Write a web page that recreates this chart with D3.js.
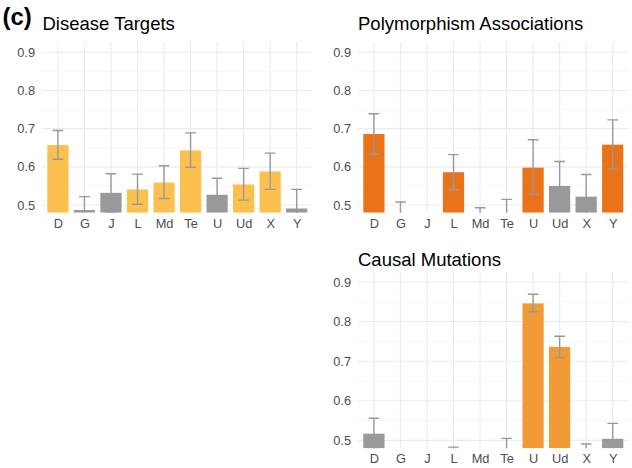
<!DOCTYPE html>
<html><head><meta charset="utf-8">
<script src="https://cdn.jsdelivr.net/npm/d3@7"></script>
<style>body{margin:0;background:#fff}svg{display:block}text{font-family:"Liberation Sans",Arial,sans-serif}</style>
</head><body><svg id="c" width="632" height="468"></svg>
<script>
const categories = ["D","G","J","L","Md","Te","U","Ud","X","Y"];
const yTicks = [0.5,0.6,0.7,0.8,0.9];

// Disease Targets
const diseaseMean  = [0.657,0.487,0.532,0.541,0.559,0.643,0.527,0.554,0.588,0.491];
const diseaseLow   = [0.620,0.452,0.482,0.502,0.517,0.599,0.484,0.513,0.541,0.441];
const diseaseHigh  = [0.695,0.522,0.582,0.581,0.603,0.689,0.570,0.596,0.636,0.541];
const diseaseSig   = [true,false,false,true,true,true,false,true,true,false];

// Polymorphism Associations
const polyMean  = [0.686,0.460,null,0.586,0.450,0.460,0.598,0.550,0.522,0.658];
const polyLow   = [0.633,0.412,null,0.540,0.407,0.405,0.528,0.486,0.464,0.594];
const polyHigh  = [0.739,0.508,null,0.632,0.493,0.515,0.671,0.614,0.580,0.723];
const polySig   = [true,false,false,true,false,false,true,false,false,true];

// Causal Mutations
const causalMean = [0.517,null,null,0.440,null,0.460,0.846,0.736,0.450,0.504];
const causalLow  = [0.478,null,null,0.397,null,0.415,0.825,0.709,0.409,0.465];
const causalHigh = [0.556,null,null,0.483,null,0.505,0.869,0.763,0.491,0.543];
const causalSig  = [false,false,false,false,false,false,true,true,false,false];

const svg = d3.select("#c");
const defs = svg.append("defs");

function panel(id, title, x0, x1, yTop, yBot, mean, low, high, sig, color, titleX, titleY) {
  const x = d3.scalePoint().domain(categories).range([x0, x1]).padding(0.6);
  const y = d3.scaleLinear().domain([0.48, 0.926]).range([yBot, yTop]);
  const step = x.step();
  const g = svg.append("g");
  defs.append("clipPath").attr("id", id).append("rect")
    .attr("x", x0).attr("y", yTop).attr("width", x1 - x0).attr("height", yBot - yTop);
  // grid
  const minor = [0.55,0.65,0.75,0.85];
  g.selectAll(".gmin").data(minor).enter().append("line")
    .attr("x1", x0).attr("x2", x1).attr("y1", d => y(d)).attr("y2", d => y(d))
    .attr("stroke", "#f2f2f2").attr("stroke-width", 0.6);
  g.selectAll(".gmaj").data(yTicks).enter().append("line")
    .attr("x1", x0).attr("x2", x1).attr("y1", d => y(d)).attr("y2", d => y(d))
    .attr("stroke", "#ebebeb").attr("stroke-width", 1.1);
  g.selectAll(".gx").data(categories).enter().append("line")
    .attr("x1", d => x(d)).attr("x2", d => x(d)).attr("y1", yTop).attr("y2", yBot)
    .attr("stroke", "#ebebeb").attr("stroke-width", 1.1);
  const data = categories.map((c, i) => ({c, m: mean[i], lo: low[i], hi: high[i], s: sig[i]}))
    .filter(d => d.m !== null);
  const clipped = g.append("g").attr("clip-path", `url(#${id})`);
  const bw = step * 0.8;
  clipped.selectAll("rect.bar").data(data).enter().append("rect")
    .attr("x", d => x(d.c) - bw / 2).attr("width", bw)
    .attr("y", d => Math.min(y(d.m), yBot)).attr("height", d => Math.max(0, yBot - y(d.m)))
    .attr("fill", d => d.s ? color : "#999999");
  const cap = step * 0.2;
  const eb = clipped.selectAll("g.eb").data(data).enter().append("g")
    .attr("stroke", "#999999").attr("stroke-width", 1.4).attr("fill", "none");
  eb.append("line").attr("x1", d => x(d.c)).attr("x2", d => x(d.c))
    .attr("y1", d => y(d.hi)).attr("y2", d => y(d.lo));
  eb.append("line").attr("x1", d => x(d.c) - cap).attr("x2", d => x(d.c) + cap)
    .attr("y1", d => y(d.hi)).attr("y2", d => y(d.hi));
  eb.append("line").attr("x1", d => x(d.c) - cap).attr("x2", d => x(d.c) + cap)
    .attr("y1", d => y(d.lo)).attr("y2", d => y(d.lo));
  // axes
  const ya = g.append("g").attr("transform", `translate(${x0 - 3},0)`)
    .call(d3.axisLeft(y).tickValues(yTicks).tickFormat(d3.format(".1f")).tickSize(0).tickPadding(4));
  ya.select(".domain").remove();
  ya.selectAll("text").attr("font-size", 12.8).attr("fill", "#4d4d4d").style("font-family", '"Liberation Sans",Arial,sans-serif');
  const xa = g.append("g").attr("transform", `translate(0,${yBot})`)
    .call(d3.axisBottom(x).tickSize(0).tickPadding(6));
  xa.select(".domain").remove();
  xa.selectAll("text").attr("font-size", 12.8).attr("fill", "#4d4d4d").style("font-family", '"Liberation Sans",Arial,sans-serif');
  svg.append("text").attr("x", titleX).attr("y", titleY).attr("font-size", 18.5).attr("fill", "#000").text(title);
}

panel("p1", "Disease Targets", 42, 312.6, 42.3, 212.7, diseaseMean, diseaseLow, diseaseHigh, diseaseSig, "#FCC04F", 42.5, 30);
panel("p2", "Polymorphism Associations", 358, 628.6, 42.3, 212.7, polyMean, polyLow, polyHigh, polySig, "#EA7218", 358, 30);
panel("p3", "Causal Mutations", 358, 628.6, 271.7, 448.3, causalMean, causalLow, causalHigh, causalSig, "#F29A36", 358, 265.5);

svg.append("text").attr("x", 2.5).attr("y", 25).attr("font-size", 24).attr("font-weight", "bold").text("(c)");
</script></body></html>
